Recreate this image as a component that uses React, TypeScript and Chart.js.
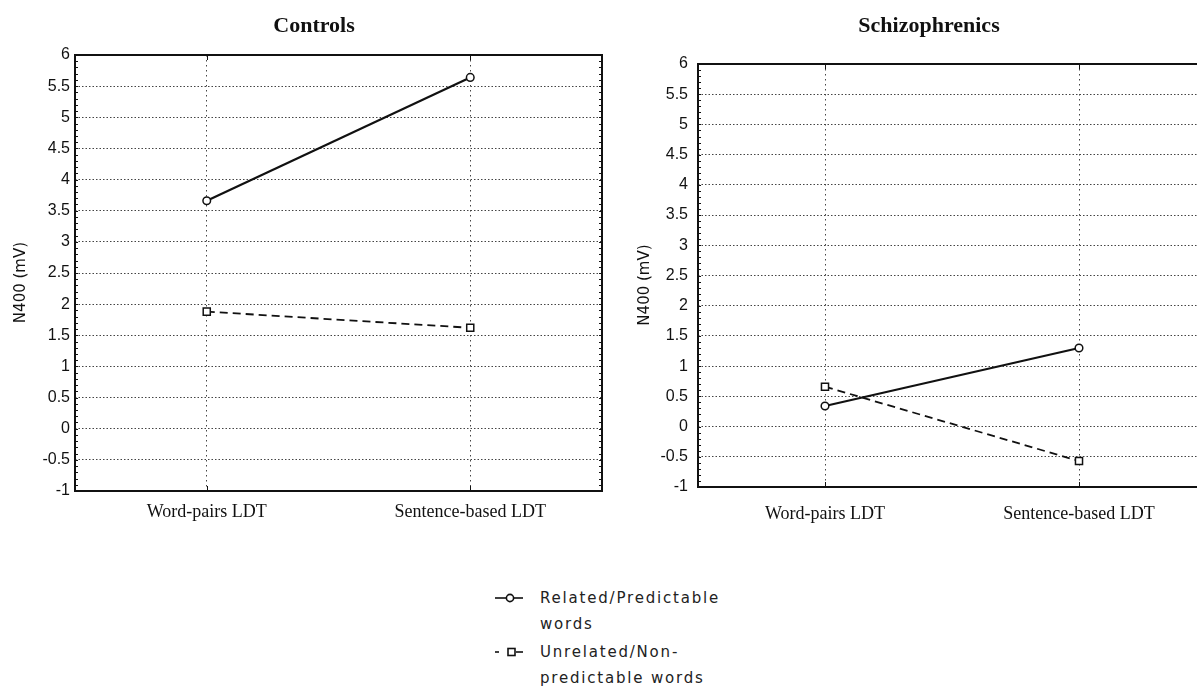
import { useEffect, useRef } from "react";
import { Chart, registerables } from "chart.js";

Chart.register(...registerables);

const categories = ["Word-pairs LDT", "Sentence-based LDT"];
const seriesLabels = ["Related/Predictable words", "Unrelated/Non-predictable words"];
const controlsRelated = [3.66, 5.64];
const controlsUnrelated = [1.88, 1.62];
const schizRelated = [0.34, 1.3];
const schizUnrelated = [0.66, -0.57];
const yTickValues = [-1, -0.5, 0, 0.5, 1, 1.5, 2, 2.5, 3, 3.5, 4, 4.5, 5, 5.5, 6];
const yTickLabels = ["-1", "-0.5", "0", "0.5", "1", "1.5", "2", "2.5", "3", "3.5", "4", "4.5", "5", "5.5", "6"];
const yAxisTitle = "N400 (mV)";

const CANVAS_H = 540;

const framePlugin = {
  id: "frame",
  afterDraw(chart: any) {
    const { ctx, chartArea, scales } = chart;
    const { left, right, top, bottom } = chartArea;
    ctx.save();
    ctx.setLineDash([]);
    ctx.strokeStyle = "#111";
    ctx.lineWidth = 2;
    ctx.strokeRect(left, top, right - left, bottom - top);
    ctx.lineWidth = 1;
    ctx.beginPath();
    const lo = Math.round(yTickValues[0] * 10);
    const hi = Math.round(yTickValues[yTickValues.length - 1] * 10);
    for (let i = lo; i <= hi; i++) {
      const y = Math.round(scales.y.getPixelForValue(i / 10)) + 0.5;
      ctx.moveTo(left, y);
      ctx.lineTo(left + 3, y);
      ctx.moveTo(right - 3, y);
      ctx.lineTo(right, y);
    }
    categories.forEach((_, i) => {
      const x = Math.round(scales.x.getPixelForValue(i)) + 0.5;
      ctx.moveTo(x, bottom);
      ctx.lineTo(x, bottom - 5);
      ctx.moveTo(x, top);
      ctx.lineTo(x, top + 5);
    });
    ctx.stroke();
    ctx.restore();
  },
};

type P = {
  title: string;
  related: number[];
  unrelated: number[];
  titleBottom: number;
  plotBottom: number;
  yWidth: number;
  rightPad: number;
  tickPad: number;
  yTitlePad: number;
  xLabelPad: number;
};

function makeConfig(p: P): any {
  return {
    type: "line",
    data: {
      labels: categories,
      datasets: [
        {
          label: seriesLabels[0],
          data: p.related,
          borderColor: "#111",
          borderWidth: 2.2,
          pointStyle: "circle",
          pointRadius: 3.8,
          pointBackgroundColor: "#fff",
          pointBorderColor: "#111",
          pointBorderWidth: 1.5,
          tension: 0,
        },
        {
          label: seriesLabels[1],
          data: p.unrelated,
          borderColor: "#111",
          borderWidth: 1.8,
          borderDash: [8, 5],
          pointStyle: "rect",
          pointRadius: 5,
          pointBackgroundColor: "#fff",
          pointBorderColor: "#111",
          pointBorderWidth: 1.5,
          tension: 0,
        },
      ],
    },
    options: {
      responsive: false,
      animation: false,
      layout: { padding: 0 },
      plugins: {
        legend: { display: false },
        tooltip: { enabled: false },
        title: {
          display: true,
          text: p.title,
          color: "#111",
          font: { family: '"Liberation Serif"', size: 22, weight: "bold", lineHeight: 1.2 },
          padding: { top: 13, bottom: p.titleBottom },
        },
      },
      scales: {
        x: {
          type: "category",
          offset: true,
          grid: { color: "#444", lineWidth: 1, drawTicks: false },
          border: { display: false, dash: [1.5, 3.5] },
          ticks: {
            color: "#111",
            padding: p.xLabelPad,
            font: { family: '"Liberation Serif"', size: 18 },
            maxRotation: 0,
          },
          afterFit: (s: any) => {
            s.height = CANVAS_H - p.plotBottom;
          },
        },
        y: {
          type: "linear",
          min: yTickValues[0],
          max: yTickValues[yTickValues.length - 1],
          afterBuildTicks: (s: any) => {
            s.ticks = yTickValues.map((v) => ({ value: v }));
          },
          grid: { color: "#444", lineWidth: 1, drawTicks: false },
          border: { display: false, dash: [1.5, 2] },
          ticks: {
            color: "#111",
            padding: p.tickPad,
            font: { family: '"Liberation Sans"', size: 16 },
            callback: (_v: any, i: number) => yTickLabels[i],
          },
          title: {
            display: true,
            text: yAxisTitle + "    ",
            color: "#111",
            font: { family: '"DejaVu Sans"', size: 15 },
            padding: { top: p.yTitlePad, bottom: 0 },
          },
          afterFit: (s: any) => {
            s.width = p.yWidth;
          },
        },
        y2: {
          type: "linear",
          position: "right",
          display: true,
          grid: { display: false },
          ticks: { display: false },
          border: { display: false },
          afterFit: (s: any) => {
            s.width = p.rightPad;
          },
        },
      },
    },
    plugins: [framePlugin],
  };
}

function LegendMarker({ dashed }: { dashed: boolean }) {
  return (
    <svg width={30} height={26} style={{ display: "block", flex: "none" }}>
      {dashed ? (
        <>
          <line x1={1} y1={13} x2={5} y2={13} stroke="#111" strokeWidth={1.6} />
          <line x1={22} y1={13} x2={29} y2={13} stroke="#111" strokeWidth={1.6} />
          <rect x={14} y={9.5} width={7} height={7} fill="#fff" stroke="#111" strokeWidth={1.6} />
        </>
      ) : (
        <>
          <line x1={1} y1={13} x2={29} y2={13} stroke="#111" strokeWidth={1.6} />
          <circle cx={16} cy={13} r={3.6} fill="#fff" stroke="#111" strokeWidth={1.6} />
        </>
      )}
    </svg>
  );
}

export default function App() {
  const leftRef = useRef<HTMLCanvasElement>(null);
  const rightRef = useRef<HTMLCanvasElement>(null);

  useEffect(() => {
    const c1 = new Chart(
      leftRef.current as HTMLCanvasElement,
      makeConfig({
        title: "Controls",
        related: controlsRelated,
        unrelated: controlsUnrelated,
        titleBottom: 15.6,
        plotBottom: 491,
        yWidth: 75,
        rightPad: 26,
        tickPad: 5,
        yTitlePad: 12,
        xLabelPad: 10,
      })
    );
    const c2 = new Chart(
      rightRef.current as HTMLCanvasElement,
      makeConfig({
        title: "Schizophrenics",
        related: schizRelated,
        unrelated: schizUnrelated,
        titleBottom: 24.6,
        plotBottom: 487,
        yWidth: 78,
        rightPad: 32,
        tickPad: 10,
        yTitlePad: 16,
        xLabelPad: 16,
      })
    );
    return () => {
      c1.destroy();
      c2.destroy();
    };
  }, []);

  const textStyle: any = {
    fontFamily: '"DejaVu Sans"',
    fontSize: 15,
    letterSpacing: "1.8px",
    lineHeight: "26px",
    color: "#222",
    marginLeft: 16,
  };

  return (
    <div
      style={{
        position: "absolute",
        left: 0,
        top: 0,
        width: 1197,
        height: 687,
        overflow: "hidden",
        background: "#fff",
      }}
    >
      <canvas ref={leftRef} width={628} height={CANVAS_H} style={{ position: "absolute", left: 0, top: 0 }} />
      <canvas ref={rightRef} width={618} height={CANVAS_H} style={{ position: "absolute", left: 620, top: 0 }} />
      <div style={{ position: "absolute", left: 494, top: 585, display: "flex", alignItems: "flex-start" }}>
        <LegendMarker dashed={false} />
        <div style={textStyle}>
          Related/Predictable
          <br />
          words
        </div>
      </div>
      <div style={{ position: "absolute", left: 494, top: 639, display: "flex", alignItems: "flex-start" }}>
        <LegendMarker dashed={true} />
        <div style={textStyle}>
          Unrelated/Non-
          <br />
          predictable words
        </div>
      </div>
    </div>
  );
}
